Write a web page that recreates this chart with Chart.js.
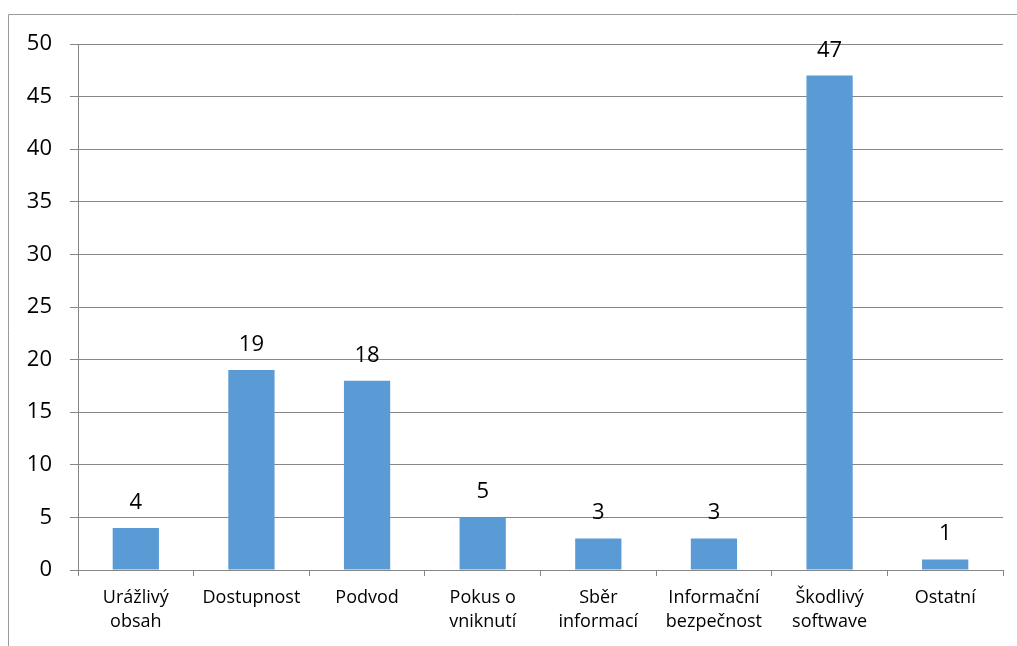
<!DOCTYPE html>
<html>
<head>
<meta charset="utf-8">
<script src="https://cdn.jsdelivr.net/npm/chart.js@4/dist/chart.umd.min.js"></script>
<style>
  html, body { margin: 0; padding: 0; background: #fff; }
  #wrap { position: relative; width: 1017px; height: 646px; }
  canvas { display: block; }
</style>
</head>
<body>
<div id="wrap"><canvas id="c" width="1017" height="646"></canvas></div>
<script>
const categories = [
  ['Urážlivý', 'obsah'],
  ['Dostupnost'],
  ['Podvod'],
  ['Pokus o', 'vniknutí'],
  ['Sběr', 'informací'],
  ['Informační', 'bezpečnost'],
  ['Škodlivý', 'softwave'],
  ['Ostatní']
];
const values = [4, 19, 18, 5, 3, 3, 47, 1];
const yMin = 0, yMax = 50, yStep = 5;

const FONT = "'Open Sans', 'Liberation Sans', sans-serif";
const GRID = '#868686';

const framePlugin = {
  id: 'frame',
  beforeDraw(chart) {
    const ctx = chart.ctx;
    ctx.save();
    ctx.strokeStyle = '#9a9a9a';
    ctx.lineWidth = 1;
    ctx.beginPath();
    ctx.moveTo(8.5, chart.height);
    ctx.lineTo(8.5, 14.5);
    ctx.lineTo(chart.width, 14.5);
    ctx.stroke();
    ctx.restore();
  }
};

const labelPlugin = {
  id: 'valueLabels',
  afterDatasetsDraw(chart) {
    const ctx = chart.ctx;
    const meta = chart.getDatasetMeta(0);
    ctx.save();
    ctx.font = '22px ' + FONT;
    ctx.fillStyle = '#000';
    ctx.textAlign = 'center';
    ctx.textBaseline = 'alphabetic';
    meta.data.forEach((bar, i) => {
      ctx.fillText(String(chart.data.datasets[0].data[i]), bar.x, bar.y - 19);
    });
    ctx.restore();
  }
};

new Chart(document.getElementById('c'), {
  type: 'bar',
  data: {
    labels: categories,
    datasets: [{
      data: values,
      backgroundColor: '#5B9BD5',
      borderWidth: 0,
      barPercentage: 0.4,
      categoryPercentage: 1.0
    }]
  },
  options: {
    responsive: false,
    animation: false,
    devicePixelRatio: 1,
    layout: { padding: { left: 0, top: 44, right: 14, bottom: 0 } },
    plugins: { legend: { display: false }, tooltip: { enabled: false } },
    scales: {
      x: {
        offset: true,
        grid: { display: true, drawOnChartArea: false, drawTicks: true, tickLength: 6, color: GRID, offset: true },
        border: { display: true, color: GRID },
        ticks: {
          font: { family: FONT, size: 18, lineHeight: 1.34 },
          color: '#000',
          padding: 10,
          maxRotation: 0,
          autoSkip: false
        },
        afterFit(scale) { scale.height = 76; }
      },
      y: {
        min: yMin,
        max: yMax,
        grid: { color: GRID, drawTicks: true, tickLength: 8 },
        border: { display: true, color: GRID },
        ticks: {
          stepSize: yStep,
          font: { family: FONT, size: 22 },
          color: '#000',
          padding: 18
        },
        afterFit(scale) { scale.width = 78; }
      }
    }
  },
  plugins: [framePlugin, labelPlugin]
});
</script>
</body>
</html>
